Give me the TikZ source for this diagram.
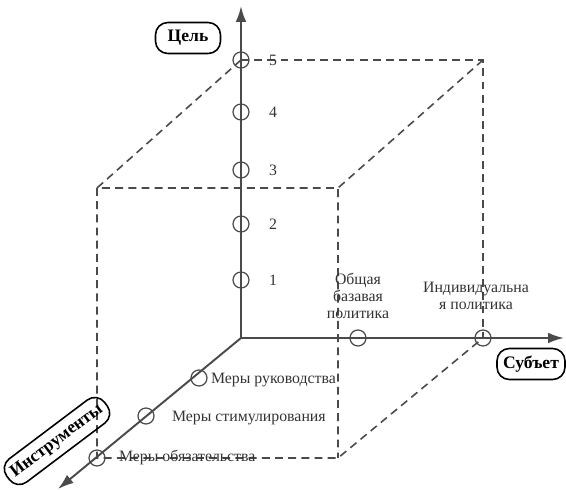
\documentclass[tikz,border=0pt]{standalone}
\usepackage{fontspec}
\setmainfont{Liberation Serif}
\usetikzlibrary{arrows.meta}
\definecolor{axisgray}{HTML}{4A4A4A}
\definecolor{txtgray}{HTML}{333333}
\tikzset{
  axis/.style={-{Latex[length=9pt,width=6pt]},axisgray,line width=1.1pt},
  edge/.style={axisgray,line width=0.9pt,dash pattern=on 4.5pt off 3pt},
  knot/.style={circle,draw=axisgray,line width=0.7pt,minimum size=0.32cm,inner sep=0pt},
  tag/.style={draw=black,line width=0.9pt,rounded corners=7pt,font=\fontsize{10}{11}\selectfont\bfseries,
    minimum width=1.3cm,minimum height=0.62cm,inner sep=2pt},
  lbl/.style={text=txtgray,font=\fontsize{9}{9.6}\selectfont,align=center,inner sep=1pt}
}
\begin{document}
\begin{tikzpicture}[x=0.02cm,y=-0.02cm]
      \useasboundingbox (0,0) rectangle (566,490);

      % Corners of the cube
      \coordinate (O) at (241,338);
      \coordinate (bt) at (241,60);
      \coordinate (btr) at (483,60);
      \coordinate (br) at (483,338);
      \coordinate (ftl) at (97,188);
      \coordinate (ftr) at (338,188);
      \coordinate (fbr) at (338,458);
      \coordinate (fbl) at (97,458);

      % Draw dashed edges
      \draw[edge] (bt) -- (btr) -- (br);
      \draw[edge] (bt) -- (ftl) -- (ftr) -- (fbr);
      \draw[edge] (btr) -- (ftr);
      \draw[edge] (ftl) -- (fbl) -- (fbr) -- (br);

      % Draw the axes
      \coordinate (ytip) at (241,6);
      \coordinate (xtip) at (564,338);
      \coordinate (ztip) at (58,489);
      \draw[axis] (O) -- (ytip);
      \draw[axis] (O) -- (xtip);
      \draw[axis] (O) -- (ztip);

      % Levels on the vertical axis
      \foreach \n/\y in {1/280,2/224,3/170,4/112,5/60} {
        \node[knot] (c\n) at (241,\y) {};
        \node[lbl] (n\n) at (273,\y) {\n};
      }

      % Points on the diagonal axis
      \node[knot] (m1) at (199,378) {};
      \node[knot] (m2) at (146,416) {};
      \node[knot] (m3) at (97,458) {};
      \node[lbl,anchor=west] (l1) at (209,380) {Меры руководства};
      \node[lbl,anchor=west] (l2) at (170,418) {Меры стимулирования};
      \node[lbl,anchor=west] (l3) at (117,458) {Меры обязательства};

      % Points on the horizontal axis
      \node[knot] (s1) at (358,338) {};
      \node[knot] (s2) at (483,338) {};
      \node[lbl] (p1) at (358,296) {Общая\\базавая\\политика};
      \node[lbl] (p2) at (476,296) {Индивидуальна\\я политика};

      % Axis names
      \node[tag] (goal) at (188,38) {Цель};
      \node[tag,minimum width=1.36cm] (subj) at (531,364) {Субъет};
      \node[tag,rotate=37,minimum width=2.45cm,minimum height=0.58cm] (inst) at (57,441) {Инструменты};
    \end{tikzpicture}
\end{document}
